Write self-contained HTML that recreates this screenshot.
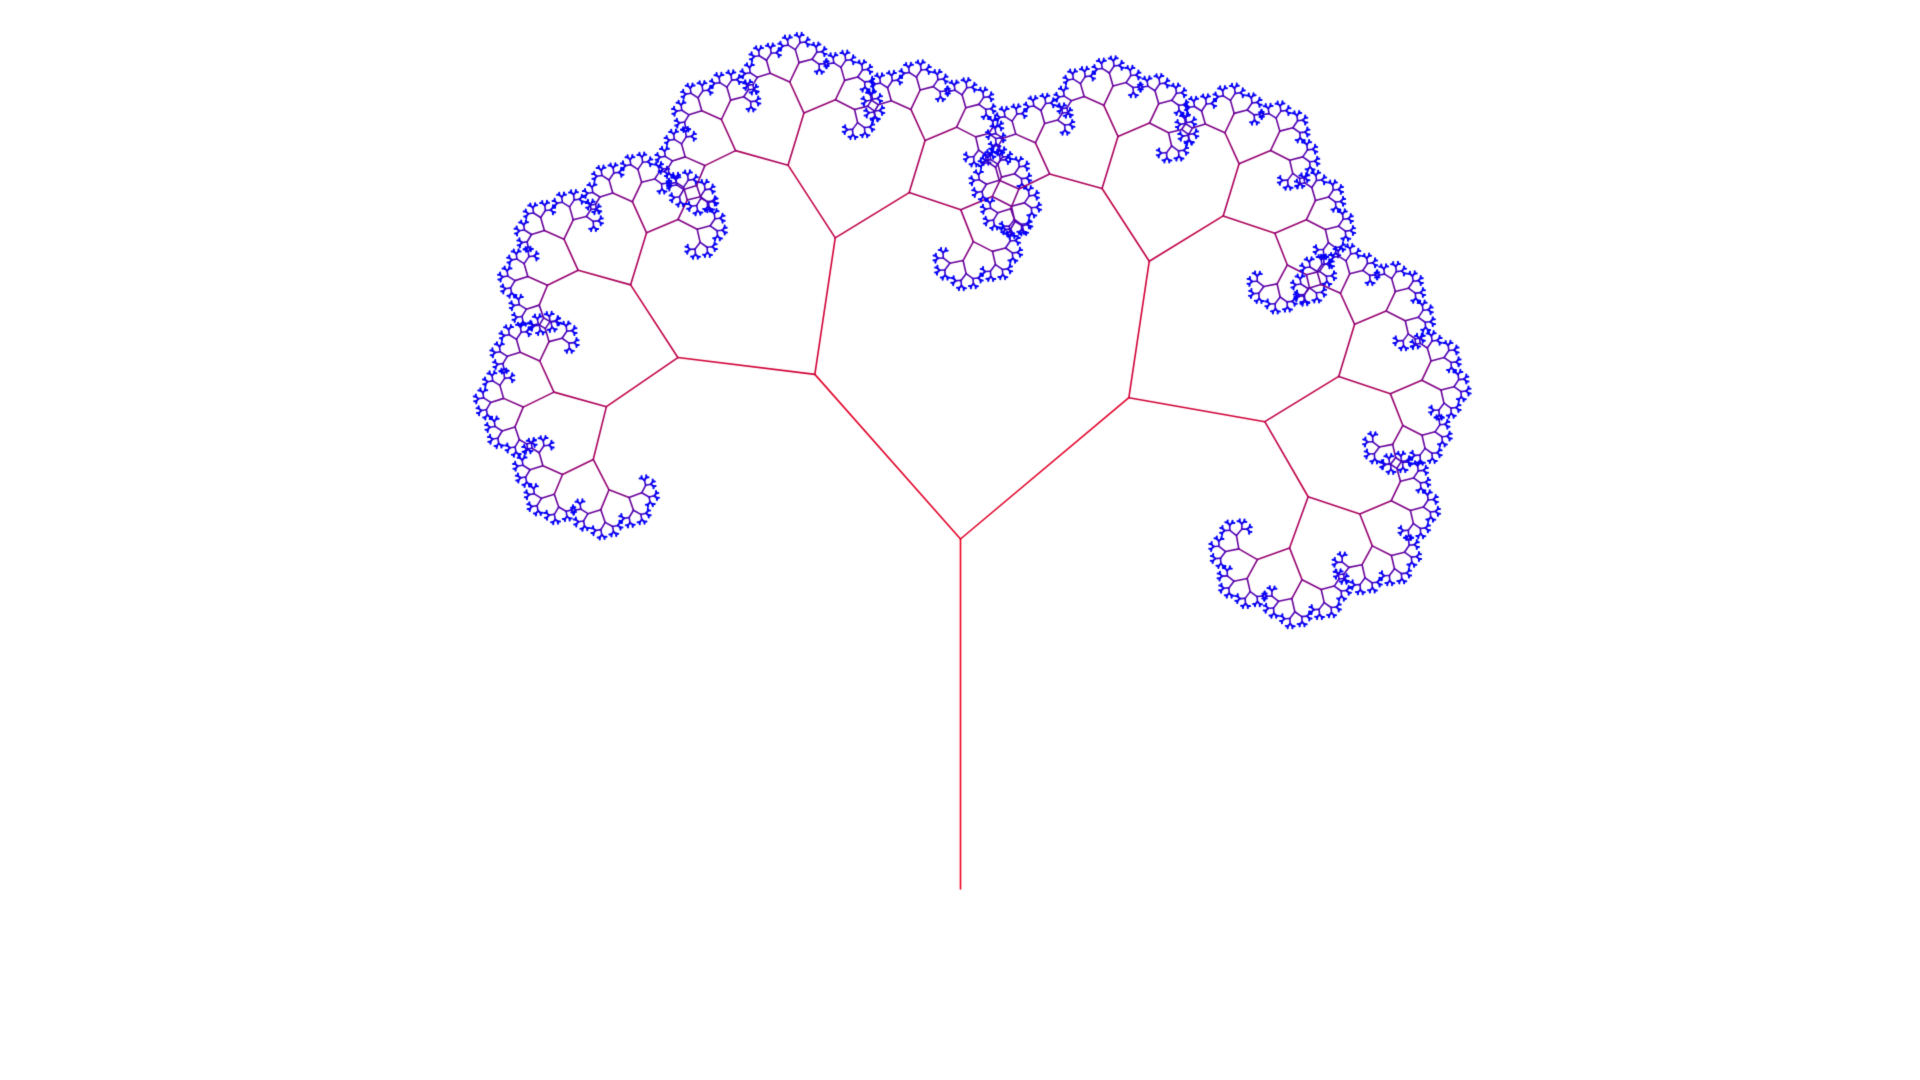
<!DOCTYPE html>
<html><head><meta charset="utf-8"><style>
html,body{margin:0;padding:0;background:#fff;width:1920px;height:1080px;overflow:hidden}
canvas{display:block}
</style></head>
<body>
<canvas id="c" width="1920" height="1080"></canvas>
<script>
const branchAngles = [-41.5, 50];
const lengthRatio = [0.628];
const trunkLength = [350];
const depthLevels = [11];
const trunkColor = [235, 0, 30];
const leafColor = [0, 0, 255];

const ctx = document.getElementById('c').getContext('2d');
ctx.lineCap = 'round';
const maxD = depthLevels[0];
function col(d){
  const t = Math.pow(d / maxD, 1.3);
  const r = Math.round(trunkColor[0] + (leafColor[0]-trunkColor[0])*t);
  const g = Math.round(trunkColor[1] + (leafColor[1]-trunkColor[1])*t);
  const b = Math.round(trunkColor[2] + (leafColor[2]-trunkColor[2])*t);
  return `rgb(${r},${g},${b})`;
}
function branch(x, y, ang, len, d){
  const rad = ang * Math.PI / 180;
  const x2 = x + len * Math.sin(rad);
  const y2 = y - len * Math.cos(rad);
  ctx.strokeStyle = col(d);
  ctx.lineWidth = d >= maxD - 1 ? 2 : 1.6;
  ctx.beginPath(); ctx.moveTo(x, y); ctx.lineTo(x2, y2); ctx.stroke();
  if (d >= maxD) return;
  for (const a of branchAngles) branch(x2, y2, ang + a, len * lengthRatio[0], d + 1);
}
branch(960.5, 889, 0, trunkLength[0], 0);
</script>
</body></html>
